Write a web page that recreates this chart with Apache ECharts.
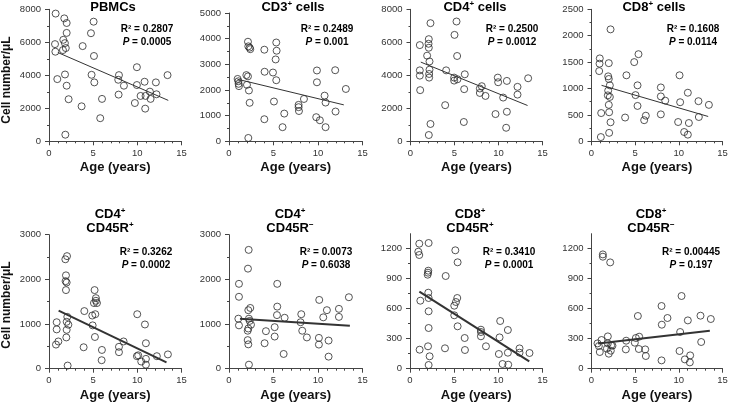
<!DOCTYPE html>
<html><head><meta charset="utf-8">
<script src="https://cdn.jsdelivr.net/npm/echarts@6/dist/echarts.min.js"></script>
<style>html,body{margin:0;padding:0;background:#fff}#c{width:730px;height:403px}</style>
</head><body><div id="c"></div>
<script>
// ---- data ----
const ages1=[0.75,1.73,2.0,0.68,0.72,1.58,1.62,2.0,1.8,1.9,0.94,1.81,2.0,2.22,1.85,3.81,3.69,5.05,4.75,5.09,4.82,5.13,6.0,5.8,7.84,7.92,7.88,8.48,9.95,9.95,9.72,10.82,10.37,10.93,10.89,11.42,11.5,12.1,12.17,13.42];
const vals1=[7740,7450,7170,5890,5430,5530,6150,6570,5950,5650,3770,4050,3370,2550,400,5770,2120,7250,6550,5170,4030,3570,2570,1400,3730,4010,2830,3370,4490,3410,2320,3610,2750,2750,1980,3010,2570,3570,2850,4010];
const ages2=[0.97,1.05,1.08,1.12,1.95,2.13,2.02,2.24,2.32,2.13,2.17,2.32,2.39,2.17,3.97,4.0,3.97,4.94,5.31,5.35,5.24,5.31,5.05,6.21,6.02,7.82,7.82,7.86,8.42,9.88,9.88,9.8,10.21,10.74,10.85,10.85,11.97,11.93,13.13];
const vals2=[2430,2340,2240,2150,2580,2530,2200,1980,1500,3880,3700,3650,3590,130,3570,2710,860,2680,3850,3530,3190,2380,1550,1080,550,1420,1330,1180,1650,2760,2300,940,820,1780,1510,550,1160,2770,2040];
const ages3=[1.06,1.06,1.06,1.1,2.27,2.08,2.05,2.08,1.89,2.16,2.16,2.12,2.12,2.27,2.08,4.05,3.94,5.23,5.0,5.3,4.96,4.96,5.34,6.17,6.1,6.06,7.88,7.88,8.1,8.52,9.92,9.96,9.66,10.53,10.95,10.95,10.87,12.16,12.16,13.37];
const vals3=[5830,4300,3980,3100,7160,6190,5910,5670,5190,4840,4340,4080,3860,1050,380,4300,2190,7260,6450,5170,3860,3680,3760,4060,3160,1170,3200,2930,3340,2750,3860,3580,1650,2650,3660,1790,820,3300,2830,3820];
const ages4=[0.95,0.92,0.88,1.11,1.07,2.18,1.98,1.91,1.98,2.1,1.91,1.87,2.1,1.98,2.02,2.18,2.02,4.0,3.85,4.89,5.38,5.27,5.04,5.27,6.22,6.03,7.94,7.94,8.44,7.94,10.08,10.15,9.92,11.03,10.61,11.15,11.03,12.25,12.29,13.44];
const vals4=[1570,1470,1330,535,80,2120,1480,1230,1180,1060,960,870,840,690,550,360,160,1250,450,1500,1650,1060,875,670,485,400,1020,850,770,510,1250,740,365,920,176,346,126,760,460,690];
const ages5=[0.87,0.87,1.06,0.79,1.85,2.04,1.92,1.88,2.0,1.92,2.07,2.0,2.19,2.0,1.96,2.11,4.0,3.92,4.9,5.24,5.16,5.31,5.31,5.09,5.43,4.94,5.2,5.99,5.96,7.92,7.92,8.44,9.99,9.95,10.1,10.86,10.97,10.44,10.97,10.97,12.21,13.46];
const vals5=[1040,880,610,540,2450,2520,2090,1960,1930,1760,1160,1050,985,870,700,70,1290,480,1190,1220,1760,1580,1520,1470,1470,970,710,420,190,490,370,610,1220,280,300,990,570,160,220,90,280,320];
const ages6=[1.12,1.12,1.05,1.12,2.21,2.13,2.39,2.17,2.24,2.32,2.47,2.17,2.1,2.1,2.17,2.24,4.15,4.0,5.42,5.42,5.39,5.13,5.13,6.25,6.14,8.12,8.04,8.23,8.75,10.14,10.1,10.1,11.0,10.59,11.19,11.19,12.35,12.35,13.47];
const vals6=[1900,1610,1120,970,2660,2240,1360,1310,1120,1070,985,900,850,640,545,90,840,570,1900,1390,1200,930,720,1140,330,1220,1040,850,700,1540,690,540,1310,1150,630,270,1340,1160,1600];
const ages7=[1.05,0.94,1.05,1.17,1.09,2.11,2.07,2.04,2.0,2.07,2.11,2.11,2.11,2.04,2.22,2.11,4.04,3.96,5.13,5.39,5.35,5.2,5.01,5.01,5.39,6.19,6.22,8.03,8.03,8.03,8.6,10.21,10.14,10.06,10.48,11.08,11.08,11.12,12.4,12.4,13.53];
const vals7=[1250,1170,1137,680,190,1257,980,960,940,760,707,574,407,224,124,37,927,204,1184,1064,707,667,630,534,424,307,187,390,367,324,224,477,313,147,47,387,160,40,203,160,157];
const ages8=[0.69,0.84,0.95,1.15,1.3,1.3,2.14,1.87,1.87,1.76,1.98,2.21,2.25,2.4,3.97,3.93,4.96,5.08,5.46,5.31,5.42,6.15,6.22,8.02,8.05,8.7,8.02,10.31,10.15,10.08,10.69,11.03,11.3,11.26,12.48,12.56,13.66];
const vals8=[253,227,167,287,1143,1120,1063,323,253,200,150,180,233,230,280,193,260,307,320,527,197,193,127,627,440,507,83,727,367,177,93,483,133,63,530,267,497];

// regression line end points
const fitX=[[1.0,13.5],[0.94,12.9],[1.17,13.3],[1.15,13.36],[1.09,13.3],[1.23,13.58],[1.06,13.5],[0.76,13.55]];
const fitY=[[5380,2480],[2420,1420],[4800,2170],[1060,470],[1300,140],[1120,960],[770,73],[253,380]];

const titleMain=['PBMCs','CD3','CD4','CD8','CD4','CD4','CD8','CD8'];
const titleSup=['','+','+','+','+','+','+','+'];
const titleRest=['',' cells',' cells',' cells','CD45R','CD45R','CD45R','CD45R'];
const titleSup2=['','','','','+','\u2212','+','\u2212'];
const r2Text=['0.2807','0.2489','0.2500','0.1608','0.3262','0.0073','0.3410','0.00445'];
const pText=['0.0005','0.001','0.0012','0.0114','0.0002','0.6038','0.0001','0.197'];
const yMax=[8000,5000,8000,2500,3000,3000,1350,1350];
const yStep=[2000,1000,2000,500,1000,1000,300,300];
const yTickLabels=[[0,2000,4000,6000,8000],[0,1000,2000,3000,4000,5000],[0,2000,4000,6000,8000],[0,500,1000,1500,2000,2500],[0,1000,2000,3000],[0,1000,2000,3000],[0,300,600,900,1200],[0,300,600,900,1200]];
const xTickLabels=[0,5,10,15];
const xName='Age (years)';
const yName='Cell number/\u03bcL';

const ages=[ages1,ages2,ages3,ages4,ages5,ages6,ages7,ages8];
const vals=[vals1,vals2,vals3,vals4,vals5,vals6,vals7,vals8];

// ---- layout ----
const G=[
 {left:49,top:9.3,width:132.5,height:132},
 {left:229,top:13,width:133.5,height:128.3},
 {left:410.5,top:9.3,width:132,height:132},
 {left:591.5,top:9.3,width:131,height:132},
 {left:49,top:234.7,width:132.5,height:134},
 {left:229,top:234.7,width:133.5,height:134},
 {left:410,top:233.7,width:132.5,height:135},
 {left:591.5,top:233.7,width:131,height:135}
];
const titleX=[113,293,475,654,110,290,470,651];
const statX=[147,327,512,693,146,326,509,691];
const AX='#444';
const font='"Liberation Sans", Arial, sans-serif';
const plain=v=>String(v);

const grid=[],xAxis=[],yAxis=[],series=[],graphic=[];
for(let i=0;i<8;i++){
  const g=G[i];
  grid.push({left:g.left,top:g.top,width:g.width,height:g.height,outerBoundsMode:'none',containLabel:false});
  xAxis.push({type:'value',gridIndex:i,min:0,max:15,interval:5,
    axisLine:{show:true,onZero:false,lineStyle:{color:AX,width:1}},
    axisTick:{show:true,length:4,lineStyle:{color:AX}},
    minorTick:{show:true,splitNumber:5,length:2,lineStyle:{color:AX}},
    splitLine:{show:false},minorSplitLine:{show:false},
    axisLabel:{fontSize:9.5,color:'#333',margin:7,fontFamily:font,customValues:xTickLabels,formatter:plain},
    name:xName,nameLocation:'middle',nameGap:20,
    nameTextStyle:{fontSize:13,fontWeight:'bold',color:'#111',fontFamily:font}});
  yAxis.push({type:'value',gridIndex:i,min:0,max:yMax[i],interval:yStep[i],
    axisLine:{show:true,onZero:false,lineStyle:{color:AX,width:1}},
    axisTick:{show:true,length:4,lineStyle:{color:AX},customValues:yTickLabels[i]},
    minorTick:{show:true,splitNumber:2,length:2,lineStyle:{color:AX}},
    splitLine:{show:false},minorSplitLine:{show:false},
    axisLabel:{fontSize:9.5,color:'#333',margin:8,fontFamily:font,customValues:yTickLabels[i],formatter:plain}});
  series.push({type:'scatter',xAxisIndex:i,yAxisIndex:i,
    data:ages[i].map((a,j)=>[a,vals[i][j]]),
    symbol:'circle',symbolSize:7,silent:true,
    itemStyle:{color:'rgba(255,255,255,0)',borderColor:'#2a2a2a',borderWidth:1}});
  series.push({type:'line',xAxisIndex:i,yAxisIndex:i,
    data:fitX[i].map((x,j)=>[x,fitY[i][j]]),symbol:'none',silent:true,
    lineStyle:{color:'#333',width:i<4?1:2}});
  const rich={b:{fontSize:13,fontWeight:'bold',color:'#111',fontFamily:font,lineHeight:14},
              s:{fontSize:8,fontWeight:'bold',color:'#111',fontFamily:font,lineHeight:9,verticalAlign:'top'}};
  let t;
  if(i<4){
    t='{b|'+titleMain[i]+'}'+(titleSup[i]?'{s|'+titleSup[i]+'}':'')+(titleRest[i]?'{b|'+titleRest[i]+'}':'');
    graphic.push({type:'text',x:titleX[i],y:7,silent:true,style:{text:t,rich:rich,align:'center',verticalAlign:'middle'}});
  } else {
    t='{b|'+titleMain[i]+'}{s|'+titleSup[i]+'}\n{b|'+titleRest[i]+'}{s|'+titleSup2[i]+'}';
    graphic.push({type:'text',x:titleX[i],y:221,silent:true,style:{text:t,rich:rich,align:'center',verticalAlign:'middle'}});
  }
  const sy = i<4 ? 29.5 : 252;
  const srich={b:{fontSize:10,fontWeight:'bold',color:'#111',fontFamily:font},
               i:{fontSize:10,fontWeight:'bold',fontStyle:'italic',color:'#111',fontFamily:font}};
  graphic.push({type:'text',x:statX[i],y:sy,silent:true,style:{text:'{b|R\u00b2 = '+r2Text[i]+'}',rich:srich,align:'center',verticalAlign:'middle'}});
  graphic.push({type:'text',x:statX[i],y:sy+13,silent:true,style:{text:'{i|P}{b| = '+pText[i]+'}',rich:srich,align:'center',verticalAlign:'middle'}});
}
graphic.push({type:'text',x:7,y:80,rotation:Math.PI/2,silent:true,style:{text:yName,fontSize:12,fontWeight:'bold',fill:'#111',fontFamily:font,align:'center',verticalAlign:'middle'}});
graphic.push({type:'text',x:7,y:305,rotation:Math.PI/2,silent:true,style:{text:yName,fontSize:12,fontWeight:'bold',fill:'#111',fontFamily:font,align:'center',verticalAlign:'middle'}});

const chart=echarts.init(document.getElementById('c'),null,{renderer:'canvas'});
chart.setOption({animation:false,backgroundColor:'#fff',grid,xAxis,yAxis,series,graphic});
</script></body></html>
